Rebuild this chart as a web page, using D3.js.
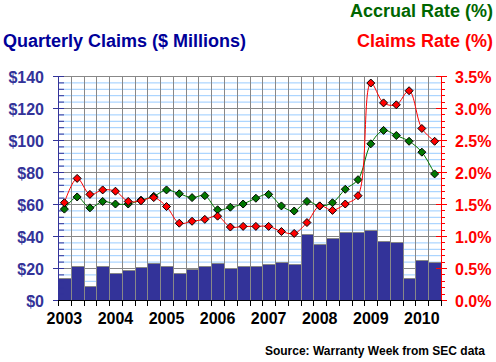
<!DOCTYPE html>
<html><head><meta charset="utf-8">
<script src="https://cdn.jsdelivr.net/npm/d3@7/dist/d3.min.js"></script>
<style>
html,body{margin:0;padding:0;background:#fff;}
svg{display:block;font-family:Arial,"Liberation Sans",sans-serif;font-weight:bold;}
</style></head>
<body><svg id="c" width="496" height="362"></svg>
<script>
const quarters = ["2003Q1","2003Q2","2003Q3","2003Q4","2004Q1","2004Q2","2004Q3","2004Q4",
 "2005Q1","2005Q2","2005Q3","2005Q4","2006Q1","2006Q2","2006Q3","2006Q4",
 "2007Q1","2007Q2","2007Q3","2007Q4","2008Q1","2008Q2","2008Q3","2008Q4",
 "2009Q1","2009Q2","2009Q3","2009Q4","2010Q1","2010Q2"];
const claimsMillions = [13.5,21.5,9,21.5,17,19,20.5,23,21.5,17,19.5,21,23,20,21,21.5,
 22.5,23.5,22.5,41.5,35,39,42.3,42.3,43.5,37,36,13.5,25,24];
const accrualRate = [1.42,1.61,1.44,1.54,1.50,1.50,1.56,1.62,1.72,1.66,1.60,1.63,1.41,1.45,1.50,1.59,
 1.65,1.47,1.39,1.54,1.47,1.52,1.73,1.88,2.44,2.65,2.57,2.48,2.31,1.97];
const claimsRate = [1.52,1.90,1.65,1.72,1.70,1.54,1.55,1.60,1.46,1.20,1.23,1.26,1.31,1.14,1.15,1.15,
 1.15,1.07,1.04,1.21,1.47,1.40,1.50,1.63,3.39,3.08,3.05,3.27,2.68,2.48];
const leftTicks = [0,20,40,60,80,100,120,140];
const rightTicks = [0,0.5,1.0,1.5,2.0,2.5,3.0,3.5];

const L=58, R=441, T=76, B=300;
const svg = d3.select("#c");
const x = d3.scaleBand().domain(quarters).range([L,R]).padding(0);
const yL = d3.scaleLinear().domain([0,140]).range([B,T]);
const yR = d3.scaleLinear().domain([0,3.5]).range([B,T]);

const minorL = d3.range(0,141,4);
const g = svg.append("g");
g.selectAll("line.hm").data(minorL.filter(v=>v%20!==0)).enter().append("line")
 .attr("x1",L).attr("x2",R).attr("y1",d=>yL(d)+0.5).attr("y2",d=>yL(d)+0.5)
 .attr("stroke","#99ccff").attr("stroke-width",1);
g.selectAll("line.hM").data(leftTicks).enter().append("line")
 .attr("x1",L).attr("x2",R).attr("y1",d=>yL(d)+0.5).attr("y2",d=>yL(d)+0.5)
 .attr("stroke","#888888").attr("stroke-width",1);
const bounds = quarters.map(q=>x(q)).concat([R]);
g.selectAll("line.v").data(bounds).enter().append("line")
 .attr("x1",d=>Math.round(d)+0.5).attr("x2",d=>Math.round(d)+0.5).attr("y1",T).attr("y2",B)
 .attr("stroke","#888888").attr("stroke-width",1);

svg.append("g").selectAll("rect").data(claimsMillions).enter().append("rect")
 .attr("x",(d,i)=>Math.round(x(quarters[i]))+0.5)
 .attr("width",(d,i)=>Math.round(x(quarters[i])+x.bandwidth())-Math.round(x(quarters[i])))
 .attr("y",d=>Math.round(yL(d))+0.5)
 .attr("height",d=>B-Math.round(yL(d)))
 .attr("fill","#333399").attr("stroke","#888888").attr("stroke-width",1);

const la = svg.append("g");
la.append("line").attr("x1",L+0.5).attr("x2",L+0.5).attr("y1",T).attr("y2",B+1).attr("stroke","#333399");
la.selectAll("line.mi").data(minorL).enter().append("line")
 .attr("x1",L).attr("x2",L+6).attr("y1",d=>yL(d)+0.5).attr("y2",d=>yL(d)+0.5).attr("stroke","#333399");
la.selectAll("line.ma").data(leftTicks).enter().append("line")
 .attr("x1",L-5).attr("x2",L+6).attr("y1",d=>yL(d)+0.5).attr("y2",d=>yL(d)+0.5).attr("stroke","#333399");
la.selectAll("text").data(leftTicks).enter().append("text")
 .attr("x",44).attr("y",d=>yL(d)+6.5).attr("text-anchor","end")
 .attr("font-size",16).attr("fill","#333399").text(d=>"$"+d);

const ra = svg.append("g");
ra.append("line").attr("x1",R+0.5).attr("x2",R+0.5).attr("y1",T).attr("y2",B+1).attr("stroke","#ff0000");
ra.selectAll("line.mi").data(d3.range(0,36).map(v=>v/10)).enter().append("line")
 .attr("x1",R).attr("x2",R+4).attr("y1",d=>Math.round(yR(d))+0.5).attr("y2",d=>Math.round(yR(d))+0.5).attr("stroke","#ff0000");
ra.selectAll("line.ma").data(rightTicks).enter().append("line")
 .attr("x1",R-5).attr("x2",R+6).attr("y1",d=>yR(d)+0.5).attr("y2",d=>yR(d)+0.5).attr("stroke","#ff0000");
ra.selectAll("text").data(rightTicks).enter().append("text")
 .attr("x",455).attr("y",d=>yR(d)+6.5).attr("text-anchor","start")
 .attr("font-size",16).attr("fill","#ff0000").text(d=>d.toFixed(1)+"%");

const ba = svg.append("g");
ba.append("line").attr("x1",L).attr("x2",R+1).attr("y1",B+0.5).attr("y2",B+0.5).attr("stroke","#000");
ba.selectAll("line.t").data(bounds).enter().append("line")
 .attr("x1",d=>Math.round(d)+0.5).attr("x2",d=>Math.round(d)+0.5).attr("y1",B).attr("y2",B+6).attr("stroke","#000");
ba.selectAll("text").data(quarters.filter(q=>q.endsWith("Q1"))).enter().append("text")
 .attr("x",d=>x(d)+x.bandwidth()/2).attr("y",324).attr("text-anchor","middle")
 .attr("font-size",16).attr("fill","#000").text(d=>d.slice(0,4));

const cx = i=>x(quarters[i])+x.bandwidth()/2;
function series(vals, lineColor, fillColor){
  const line = d3.line().x((d,i)=>cx(i)).y(d=>yR(d)).curve(d3.curveCatmullRom.alpha(0.5));
  svg.append("path").datum(vals).attr("d",line).attr("fill","none")
   .attr("stroke",lineColor).attr("stroke-width",1);
  svg.append("g").selectAll("path").data(vals).enter().append("path")
   .attr("d",(d,i)=>{const px=cx(i), py=yR(d), r=4;
     return `M${px},${py-r}L${px+r},${py}L${px},${py+r}L${px-r},${py}Z`;})
   .attr("fill",fillColor).attr("stroke","#000").attr("stroke-width",1);
}
series(accrualRate,"#007700","#007700");
series(claimsRate,"#ff0000","#ff0000");

svg.append("text").attr("x",493).attr("y",17).attr("text-anchor","end")
 .attr("font-size",18).attr("fill","#006600").text("Accrual Rate (%)");
svg.append("text").attr("x",3).attr("y",47).attr("text-anchor","start")
 .attr("font-size",18).attr("fill","#000099").text("Quarterly Claims ($ Millions)");
svg.append("text").attr("x",493).attr("y",47).attr("text-anchor","end")
 .attr("font-size",18).attr("fill","#ff0000").text("Claims Rate (%)");
svg.append("text").attr("x",485).attr("y",355).attr("text-anchor","end")
 .attr("font-size",12).attr("fill","#000").text("Source: Warranty Week from SEC data");
</script></body></html>
